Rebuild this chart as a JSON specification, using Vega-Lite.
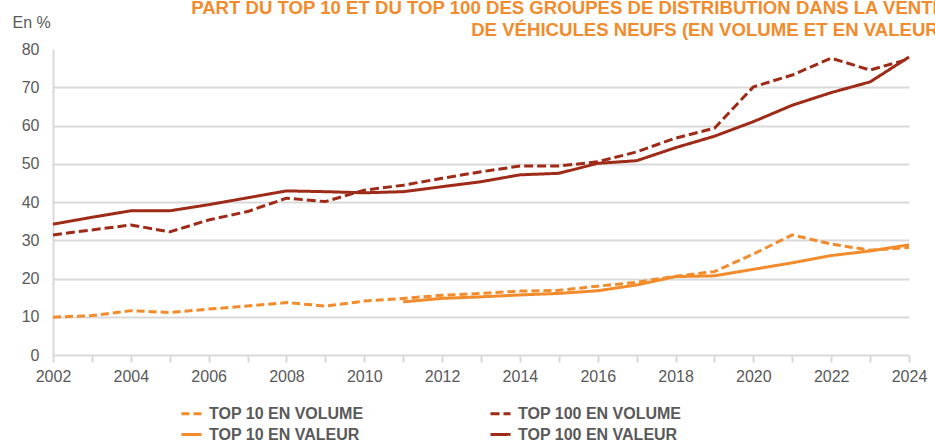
{
  "$schema": "https://vega.github.io/schema/vega-lite/v6.json",
  "width": 856,
  "height": 306,
  "autosize": {"type": "none"},
  "padding": {"left": 53, "top": 49, "right": 26, "bottom": 86},
  "background": "white",
  "title": {
    "text": ["PART DU TOP 10 ET DU TOP 100 DES GROUPES DE DISTRIBUTION DANS LA VENTE", "DE VÉHICULES NEUFS (EN VOLUME ET EN VALEUR)"],
    "anchor": "end",
    "frame": "group",
    "dx": 36,
    "dy": 38,
    "offset": 12,
    "font": "Liberation Sans",
    "fontSize": 18.6,
    "fontWeight": "bold",
    "color": "#F28B2C",
    "lineHeight": 22
  },
  "config": {
    "view": {"stroke": null},
    "font": "Liberation Sans"
  },
  "data": {
    "values": [
      {"year": 2002, "series": "TOP 10 EN VOLUME", "value": 9.9},
      {"year": 2003, "series": "TOP 10 EN VOLUME", "value": 10.3},
      {"year": 2004, "series": "TOP 10 EN VOLUME", "value": 11.6},
      {"year": 2005, "series": "TOP 10 EN VOLUME", "value": 11.1},
      {"year": 2006, "series": "TOP 10 EN VOLUME", "value": 12.0},
      {"year": 2007, "series": "TOP 10 EN VOLUME", "value": 12.8},
      {"year": 2008, "series": "TOP 10 EN VOLUME", "value": 13.7},
      {"year": 2009, "series": "TOP 10 EN VOLUME", "value": 12.8},
      {"year": 2010, "series": "TOP 10 EN VOLUME", "value": 14.1},
      {"year": 2011, "series": "TOP 10 EN VOLUME", "value": 14.8},
      {"year": 2012, "series": "TOP 10 EN VOLUME", "value": 15.6},
      {"year": 2013, "series": "TOP 10 EN VOLUME", "value": 16.1},
      {"year": 2014, "series": "TOP 10 EN VOLUME", "value": 16.7},
      {"year": 2015, "series": "TOP 10 EN VOLUME", "value": 16.9},
      {"year": 2016, "series": "TOP 10 EN VOLUME", "value": 18.0},
      {"year": 2017, "series": "TOP 10 EN VOLUME", "value": 19.0},
      {"year": 2018, "series": "TOP 10 EN VOLUME", "value": 20.6},
      {"year": 2019, "series": "TOP 10 EN VOLUME", "value": 21.8},
      {"year": 2020, "series": "TOP 10 EN VOLUME", "value": 26.4},
      {"year": 2021, "series": "TOP 10 EN VOLUME", "value": 31.4},
      {"year": 2022, "series": "TOP 10 EN VOLUME", "value": 29.0},
      {"year": 2023, "series": "TOP 10 EN VOLUME", "value": 27.4},
      {"year": 2024, "series": "TOP 10 EN VOLUME", "value": 28.1},
      {"year": 2002, "series": "TOP 100 EN VOLUME", "value": 31.4},
      {"year": 2003, "series": "TOP 100 EN VOLUME", "value": 32.7},
      {"year": 2004, "series": "TOP 100 EN VOLUME", "value": 34.0},
      {"year": 2005, "series": "TOP 100 EN VOLUME", "value": 32.2},
      {"year": 2006, "series": "TOP 100 EN VOLUME", "value": 35.3},
      {"year": 2007, "series": "TOP 100 EN VOLUME", "value": 37.5},
      {"year": 2008, "series": "TOP 100 EN VOLUME", "value": 41.0},
      {"year": 2009, "series": "TOP 100 EN VOLUME", "value": 40.1},
      {"year": 2010, "series": "TOP 100 EN VOLUME", "value": 43.1},
      {"year": 2011, "series": "TOP 100 EN VOLUME", "value": 44.4},
      {"year": 2012, "series": "TOP 100 EN VOLUME", "value": 46.2},
      {"year": 2013, "series": "TOP 100 EN VOLUME", "value": 47.9},
      {"year": 2014, "series": "TOP 100 EN VOLUME", "value": 49.4},
      {"year": 2015, "series": "TOP 100 EN VOLUME", "value": 49.4},
      {"year": 2016, "series": "TOP 100 EN VOLUME", "value": 50.5},
      {"year": 2017, "series": "TOP 100 EN VOLUME", "value": 53.1},
      {"year": 2018, "series": "TOP 100 EN VOLUME", "value": 56.7},
      {"year": 2019, "series": "TOP 100 EN VOLUME", "value": 59.3},
      {"year": 2020, "series": "TOP 100 EN VOLUME", "value": 70.1},
      {"year": 2021, "series": "TOP 100 EN VOLUME", "value": 73.2},
      {"year": 2022, "series": "TOP 100 EN VOLUME", "value": 77.6},
      {"year": 2023, "series": "TOP 100 EN VOLUME", "value": 74.5},
      {"year": 2024, "series": "TOP 100 EN VOLUME", "value": 77.4},
      {"year": 2011, "series": "TOP 10 EN VALEUR", "value": 13.9},
      {"year": 2012, "series": "TOP 10 EN VALEUR", "value": 14.8},
      {"year": 2013, "series": "TOP 10 EN VALEUR", "value": 15.2},
      {"year": 2014, "series": "TOP 10 EN VALEUR", "value": 15.7},
      {"year": 2015, "series": "TOP 10 EN VALEUR", "value": 16.1},
      {"year": 2016, "series": "TOP 10 EN VALEUR", "value": 16.8},
      {"year": 2017, "series": "TOP 10 EN VALEUR", "value": 18.3},
      {"year": 2018, "series": "TOP 10 EN VALEUR", "value": 20.5},
      {"year": 2019, "series": "TOP 10 EN VALEUR", "value": 20.7},
      {"year": 2020, "series": "TOP 10 EN VALEUR", "value": 22.4},
      {"year": 2021, "series": "TOP 10 EN VALEUR", "value": 24.1},
      {"year": 2022, "series": "TOP 10 EN VALEUR", "value": 26.0},
      {"year": 2023, "series": "TOP 10 EN VALEUR", "value": 27.2},
      {"year": 2024, "series": "TOP 10 EN VALEUR", "value": 28.8},
      {"year": 2002, "series": "TOP 100 EN VALEUR", "value": 34.2},
      {"year": 2003, "series": "TOP 100 EN VALEUR", "value": 36.0},
      {"year": 2004, "series": "TOP 100 EN VALEUR", "value": 37.7},
      {"year": 2005, "series": "TOP 100 EN VALEUR", "value": 37.7},
      {"year": 2006, "series": "TOP 100 EN VALEUR", "value": 39.3},
      {"year": 2007, "series": "TOP 100 EN VALEUR", "value": 41.1},
      {"year": 2008, "series": "TOP 100 EN VALEUR", "value": 42.9},
      {"year": 2009, "series": "TOP 100 EN VALEUR", "value": 42.7},
      {"year": 2010, "series": "TOP 100 EN VALEUR", "value": 42.4},
      {"year": 2011, "series": "TOP 100 EN VALEUR", "value": 42.7},
      {"year": 2012, "series": "TOP 100 EN VALEUR", "value": 44.0},
      {"year": 2013, "series": "TOP 100 EN VALEUR", "value": 45.3},
      {"year": 2014, "series": "TOP 100 EN VALEUR", "value": 47.1},
      {"year": 2015, "series": "TOP 100 EN VALEUR", "value": 47.5},
      {"year": 2016, "series": "TOP 100 EN VALEUR", "value": 50.1},
      {"year": 2017, "series": "TOP 100 EN VALEUR", "value": 50.8},
      {"year": 2018, "series": "TOP 100 EN VALEUR", "value": 54.2},
      {"year": 2019, "series": "TOP 100 EN VALEUR", "value": 57.2},
      {"year": 2020, "series": "TOP 100 EN VALEUR", "value": 61.0},
      {"year": 2021, "series": "TOP 100 EN VALEUR", "value": 65.3},
      {"year": 2022, "series": "TOP 100 EN VALEUR", "value": 68.6},
      {"year": 2023, "series": "TOP 100 EN VALEUR", "value": 71.4},
      {"year": 2024, "series": "TOP 100 EN VALEUR", "value": 77.9}
    ]
  },
  "mark": {"type": "line", "strokeCap": "butt", "strokeJoin": "round"},
  "encoding": {
    "x": {
      "field": "year",
      "type": "quantitative",
      "scale": {"domain": [2002, 2024], "nice": false, "zero": false},
      "axis": {
        "title": null,
        "values": [2002, 2003, 2004, 2005, 2006, 2007, 2008, 2009, 2010, 2011, 2012, 2013, 2014, 2015, 2016, 2017, 2018, 2019, 2020, 2021, 2022, 2023, 2024],
        "format": "d",
        "labelExpr": "datum.value % 2 == 0 ? datum.label : ''",
        "labelFlush": false,
        "labelOverlap": false,
        "labelFont": "Liberation Sans",
        "labelFontSize": 16,
        "labelColor": "#595959",
        "labelPadding": 6,
        "grid": false,
        "domainColor": "#d9d9d9",
        "domainWidth": 2,
        "tickColor": "#d9d9d9",
        "tickWidth": 2,
        "tickSize": 7
      }
    },
    "y": {
      "field": "value",
      "type": "quantitative",
      "scale": {"domain": [0, 80], "nice": false},
      "axis": {
        "title": "En %",
        "titleAngle": 0,
        "titleAlign": "left",
        "titleBaseline": "middle",
        "titleX": -41,
        "titleY": -27,
        "titleFont": "Liberation Sans",
        "titleFontSize": 16,
        "titleFontWeight": "normal",
        "titleColor": "#595959",
        "values": [0, 10, 20, 30, 40, 50, 60, 70, 80],
        "labelFont": "Liberation Sans",
        "labelFontSize": 16,
        "labelColor": "#595959",
        "labelPadding": 14,
        "ticks": false,
        "domainColor": "#d9d9d9",
        "domainWidth": 2,
        "grid": true,
        "gridColor": {"condition": {"test": "datum.value == 80 || datum.value == 0", "value": "transparent"}, "value": "#d9d9d9"},
        "gridWidth": 2
      }
    },
    "color": {
      "field": "series",
      "type": "nominal",
      "scale": {
        "domain": ["TOP 10 EN VOLUME", "TOP 100 EN VOLUME", "TOP 10 EN VALEUR", "TOP 100 EN VALEUR"],
        "range": ["#F28B2C", "#9E2B17", "#F28B2C", "#9E2B17"]
      },
      "legend": {
        "title": null,
        "orient": "none",
        "direction": "horizontal",
        "legendX": 127,
        "legendY": 353,
        "columns": 2,
        "columnPadding": 120,
        "rowPadding": 1,
        "symbolType": "stroke",
        "symbolSize": 400,
        "symbolStrokeWidth": 4,
        "labelOffset": 6,
        "labelFont": "Liberation Sans",
        "labelFontSize": 16,
        "labelFontWeight": "bold",
        "labelColor": "#595959",
        "labelLimit": 300
      }
    },
    "strokeDash": {
      "field": "series",
      "type": "nominal",
      "scale": {
        "domain": ["TOP 10 EN VOLUME", "TOP 100 EN VOLUME", "TOP 10 EN VALEUR", "TOP 100 EN VALEUR"],
        "range": [[8, 4], [9, 4], [1, 0], [1, 0]]
      },
      "legend": null
    },
    "strokeWidth": {
      "field": "series",
      "type": "nominal",
      "scale": {
        "domain": ["TOP 10 EN VOLUME", "TOP 100 EN VOLUME", "TOP 10 EN VALEUR", "TOP 100 EN VALEUR"],
        "range": [3, 3, 3.5, 3.5]
      },
      "legend": null
    }
  }
}
